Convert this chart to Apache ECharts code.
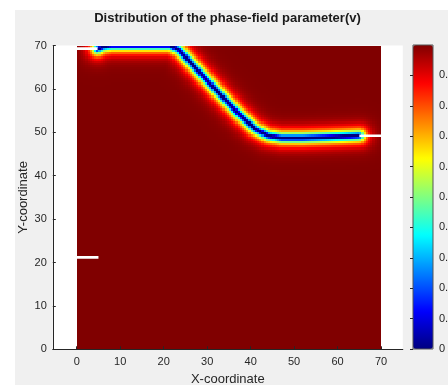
<!DOCTYPE html>
<html><head><meta charset="utf-8">
<script src="https://cdn.jsdelivr.net/npm/echarts@6/dist/echarts.min.js"></script>
<style>html,body{margin:0;padding:0;background:#fff}#c{width:448px;height:385px}</style>
</head><body><div id="c"></div>
<script>
// ---- data ----
const titleText = 'Distribution of the phase-field parameter(v)';
const xName = 'X-coordinate';
const yName = 'Y-coordinate';
const xTicks = [0, 10, 20, 30, 40, 50, 60, 70];
const yTicks = [0, 10, 20, 30, 40, 50, 60, 70];
const cbTicks = [0, 0.1, 0.2, 0.3, 0.4, 0.5, 0.6, 0.7, 0.8, 0.9];
// crack path (centre line of v = 0)
const crackX = [4.8, 6, 8, 21.5, 23.5, 27, 32, 37, 41, 44, 47, 52, 58, 65];
const crackY = [69.2, 69.8, 70.1, 70.1, 69.0, 65.2, 59.8, 54.5, 50.8, 49.2, 48.7, 48.7, 48.9, 49.2];
// pre-existing notches (white gaps)
const notchTopX = [0, 4.8], notchTopY = [69.3, 69.3];
const notchRightX = [65, 70], notchRightY = [49.2, 49.2];
const notchLeftX = [0, 5], notchLeftY = [21.2, 21.2];
// field description (fully broken core and regularisation length of the crack band)
const domainSize = 70, cellSize = 0.5;
const coreHalfWidth = 0.2, lengthScale = 1.1;
const jetColors = ['#000080', '#0000FF', '#0080FF', '#00FFFF', '#80FF80', '#FFFF00', '#FF8000', '#FF0000', '#800000'];

// ---- build the field from the crack path ----
function segDist(px, py, ax, ay, bx, by) {
  const dx = bx - ax, dy = by - ay;
  const L2 = dx * dx + dy * dy;
  let t = L2 > 0 ? ((px - ax) * dx + (py - ay) * dy) / L2 : 0;
  t = Math.max(0, Math.min(1, t));
  const qx = ax + t * dx - px, qy = ay + t * dy - py;
  return Math.sqrt(qx * qx + qy * qy);
}
function crackDist(px, py) {
  let d = Infinity;
  for (let k = 0; k < crackX.length - 1; k++) {
    d = Math.min(d, segDist(px, py, crackX[k], crackY[k], crackX[k + 1], crackY[k + 1]));
  }
  return d;
}
const n = Math.round(domainSize / cellSize);
const field = [];
for (let i = 0; i < n; i++) {
  for (let j = 0; j < n; j++) {
    const x = (i + 0.5) * cellSize, y = (j + 0.5) * cellSize;
    const d = crackDist(x, y);
    field.push([x, y, 1 - Math.exp(-Math.max(0, d - coreHalfWidth) / lengthScale)]);
  }
}
const zip = (xs, ys) => xs.map((x, i) => [x, ys[i]]);

const chart = echarts.init(document.getElementById('c'), null, { renderer: 'canvas' });
const axisColor = '#262626';
const font = "'Liberation Sans', Arial, sans-serif";
const notchSeries = (xs, ys) => ({
  type: 'line', xAxisIndex: 0, yAxisIndex: 0, data: zip(xs, ys), symbol: 'none', silent: true, z: 5,
  lineStyle: { color: '#ffffff', width: 2.7, cap: 'butt' }
});

chart.setOption({
  animation: false,
  backgroundColor: '#F0F0F0',
  graphic: [
    { type: 'rect', shape: { x: 0, y: 0, width: 448, height: 10 }, style: { fill: '#fff' }, silent: true },
    { type: 'rect', shape: { x: 0, y: 0, width: 15, height: 385 }, style: { fill: '#fff' }, silent: true },
    { type: 'text', x: 227.5, y: 18, style: { text: titleText, textAlign: 'center', textVerticalAlign: 'middle', font: 'bold 13px ' + font, fill: '#1a1a1a' }, silent: true }
  ],
  grid: [
    { left: 52.8, width: 350, top: 45.5, height: 303.8, show: true, backgroundColor: '#fff', borderWidth: 0, outerBoundsMode: 'none', containLabel: false },
    { left: 413, width: 20, top: 45, height: 304, show: true, backgroundColor: 'transparent', borderColor: '#555', borderWidth: 1, z: 10, outerBoundsMode: 'none', containLabel: false }
  ],
  xAxis: [
    {
      gridIndex: 0, type: 'value', min: -5.5, max: 75, z: 6,
      name: xName, nameLocation: 'middle', nameGap: 24, nameMoveOverlap: false,
      nameTextStyle: { fontFamily: font, fontSize: 13, color: axisColor },
      axisLine: { show: true, onZero: false, lineStyle: { color: axisColor, width: 1 } },
      axisTick: { show: true, inside: true, length: 3, customValues: xTicks, lineStyle: { color: axisColor } },
      axisLabel: { customValues: xTicks, margin: 7, fontFamily: font, fontSize: 11, color: axisColor },
      splitLine: { show: false }
    },
    { gridIndex: 1, type: 'value', min: 0, max: 1, show: false }
  ],
  yAxis: [
    {
      gridIndex: 0, type: 'value', min: 0, max: 70, interval: 10, z: 6,
      name: yName, nameLocation: 'middle', nameGap: 23, nameMoveOverlap: false,
      nameTextStyle: { fontFamily: font, fontSize: 13, color: axisColor },
      axisLine: { show: true, onZero: false, lineStyle: { color: axisColor, width: 1 } },
      axisTick: { show: true, inside: true, length: 3, lineStyle: { color: axisColor } },
      axisLabel: { margin: 6, fontFamily: font, fontSize: 11, color: axisColor },
      splitLine: { show: false }
    },
    {
      gridIndex: 1, type: 'value', min: 0, max: 1, position: 'right', z: 11,
      axisLine: { show: false },
      axisTick: { show: true, inside: true, length: 3, customValues: cbTicks, lineStyle: { color: axisColor } },
      axisLabel: { customValues: cbTicks, margin: 6, fontFamily: font, fontSize: 11, color: axisColor },
      splitLine: { show: false }
    }
  ],
  visualMap: {
    type: 'continuous', min: 0, max: 1, dimension: 2, seriesIndex: 0,
    inRange: { color: jetColors },
    left: 413, top: 45, itemWidth: 20, itemHeight: 304, padding: 0,
    calculable: false, hoverLink: false, text: null, z: 4
  },
  series: [
    {
      type: 'custom', xAxisIndex: 0, yAxisIndex: 0, data: field, encode: { x: 0, y: 1 }, silent: true, clip: true, z: 2,
      renderItem: function (params, api) {
        const x = api.value(0), y = api.value(1), h = cellSize / 2;
        const p0 = api.coord([x - h, y + h]);
        const p1 = api.coord([x + h, y - h]);
        const x0 = Math.round(p0[0]), y0 = Math.round(p0[1]);
        const x1 = Math.round(p1[0]), y1 = Math.round(p1[1]);
        return { type: 'rect', shape: { x: x0, y: y0, width: x1 - x0, height: y1 - y0 }, style: { fill: api.visual('color') } };
      }
    },
    notchSeries(notchTopX, notchTopY),
    notchSeries(notchRightX, notchRightY),
    notchSeries(notchLeftX, notchLeftY)
  ]
});
</script></body></html>
